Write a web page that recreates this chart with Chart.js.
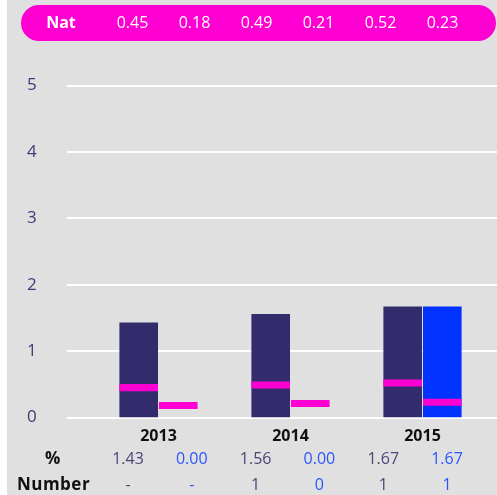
<!DOCTYPE html>
<html>
<head>
<meta charset="utf-8">
<script src="https://cdn.jsdelivr.net/npm/chart.js@4/dist/chart.umd.min.js"></script>
<style>
  html, body { margin: 0; padding: 0; background: #ffffff; }
  #bg { position: absolute; left: 7px; top: 0; width: 490px; height: 495px; background: #e0e0e0; }
  #wrap { position: absolute; left: 0; top: 0; width: 497px; height: 495px; }
</style>
</head>
<body>
<div id="bg"></div>
<div id="wrap"><canvas id="c" width="497" height="495"></canvas></div>
<script>
// ---- data ----
const categories = ['2013', '2014', '2015'];
const schoolValues = [1.43, 1.56, 1.67];
const secondValues = [0, 0, 1.67];
const natSchool = [0.45, 0.49, 0.52];
const natSecond = [0.18, 0.21, 0.23];
const natRowLabels = ['0.45', '0.18', '0.49', '0.21', '0.52', '0.23'];
const pctRowLabels = ['1.43', '0.00', '1.56', '0.00', '1.67', '1.67'];
const numberRowLabels = ['-', '-', '1', '0', '1', '1'];
const yTicks = [0, 1, 2, 3, 4, 5];

const DARK = '#322c6c';
const BLUE = '#0033ff';
const PINK = '#ff00d2';
const FONT = '"Open Sans", "Noto Sans", sans-serif';
const half = 0.053;

const decor = {
  id: 'decor',
  beforeDatasetsDraw(chart) {
    const ctx = chart.ctx;
    const y = chart.scales.y;
    ctx.save();
    ctx.strokeStyle = '#ffffff';
    ctx.lineWidth = 2;
    yTicks.forEach(v => {
      const py = Math.round(y.getPixelForValue(v));
      ctx.beginPath();
      ctx.moveTo(67, py);
      ctx.lineTo(chart.width, py);
      ctx.stroke();
    });
    ctx.restore();
  },
  afterDraw(chart) {
    const ctx = chart.ctx;
    ctx.save();
    // pill
    const x0 = 21, y0 = 5, x1 = 496, y1 = 41, r = 18;
    ctx.fillStyle = PINK;
    ctx.beginPath();
    ctx.moveTo(x0 + r, y0);
    ctx.lineTo(x1 - r, y0);
    ctx.arc(x1 - r, y0 + r, r, -Math.PI / 2, Math.PI / 2);
    ctx.lineTo(x0 + r, y1);
    ctx.arc(x0 + r, y0 + r, r, Math.PI / 2, Math.PI * 1.5);
    ctx.closePath();
    ctx.fill();
    ctx.fillStyle = '#ffffff';
    ctx.textAlign = 'center';
    ctx.textBaseline = 'middle';
    ctx.font = 'bold 16px ' + FONT;
    ctx.fillText('Nat', 61, 23);
    ctx.font = '16px ' + FONT;
    natRowLabels.forEach((t, i) => ctx.fillText(t, 132.5 + i * 62, 23));
    // table rows
    ctx.fillStyle = '#111111';
    ctx.font = 'bold 17px ' + FONT;
    ctx.letterSpacing = '0.5px';
    ctx.fillText('%', 53, 459);
    ctx.fillText('Number', 53.5, 485);
    ctx.letterSpacing = '0px';
    ctx.font = '16px ' + FONT;
    pctRowLabels.forEach((t, i) => {
      ctx.fillStyle = i % 2 === 0 ? '#4a4778' : '#2b55ff';
      ctx.fillText(t, 128 + i * 63.8, 459);
    });
    numberRowLabels.forEach((t, i) => {
      ctx.fillStyle = i % 2 === 0 ? '#4a4778' : '#2b55ff';
      ctx.fillText(t, 128 + i * 63.8, 485);
    });
    ctx.restore();
  }
};

const barOpts = { categoryPercentage: 0.6, barPercentage: 0.975 };

new Chart(document.getElementById('c'), {
  type: 'bar',
  data: {
    labels: categories,
    datasets: [
      Object.assign({ label: 'School', data: schoolValues, backgroundColor: DARK, stack: 'a', order: 2 }, barOpts),
      Object.assign({ label: 'Second', data: secondValues, backgroundColor: BLUE, stack: 'b', order: 2 }, barOpts),
      Object.assign({ label: 'Nat school', data: natSchool.map(v => [v - half, v + half]), backgroundColor: PINK, stack: 'a', order: 1 }, barOpts),
      Object.assign({ label: 'Nat second', data: natSecond.map(v => [v - half, v + half]), backgroundColor: PINK, stack: 'b', order: 1 }, barOpts)
    ]
  },
  options: {
    responsive: false,
    animation: false,
    layout: { padding: { left: 27, right: 8.5, top: 85.5, bottom: 0 } },
    plugins: { legend: { display: false }, tooltip: { enabled: false } },
    scales: {
      x: {
        grid: { display: false, drawTicks: false },
        border: { display: false },
        ticks: { color: '#111111', font: { family: FONT, size: 16, weight: 'bold' }, padding: 9 },
        afterFit: s => { s.height = 77.5; }
      },
      y: {
        min: 0, max: 5,
        stacked: false,
        grid: { display: false, drawTicks: false },
        border: { display: false },
        ticks: { stepSize: 1, color: '#3f3a78', font: { family: FONT, size: 17 }, crossAlign: 'far', padding: 0 },
        afterFit: s => { s.width = 65.5; }
      }
    }
  },
  plugins: [decor]
});
</script>
</body>
</html>
